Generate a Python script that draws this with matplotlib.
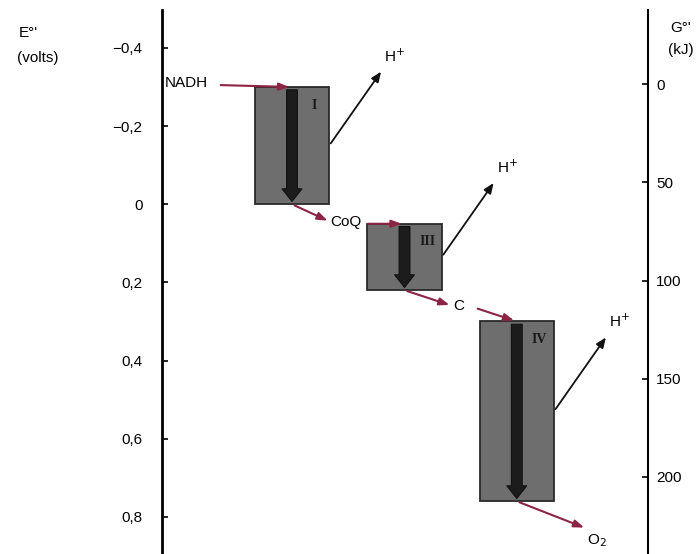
import matplotlib.pyplot as plt

plt.rcParams['font.family'] = ['Liberation Sans', 'DejaVu Sans']

# data
complexes = ["I", "III", "IV"]
e_top = [-0.30, 0.05, 0.30]        # E°' (V) at top of each complex box
e_bottom = [0.0, 0.22, 0.76]       # E°' (V) at bottom of each box
carriers = ["NADH", "CoQ", "C", "O$_2$"]
carrier_e = [-0.31, 0.045, 0.26, 0.83]

e_ticks = [-0.4, -0.2, 0.0, 0.2, 0.4, 0.6, 0.8]
e_ticklabels = ["\u22120,4", "\u22120,2", "0", "0,2", "0,4", "0,6", "0,8"]
g_ticks = [0, 50, 100, 150, 200]
g_ticklabels = ["0", "50", "100", "150", "200"]

# layout (x in axes fraction)
box_x = [0.2675, 0.499, 0.730]
box_w = 0.153
carrier_x = [0.006, 0.379, 0.611, 0.895]

box_col = "#6e6e6e"
red = "#8c2444"

fig = plt.figure(figsize=(7, 5.54), dpi=100)
ax = fig.add_axes([162 / 700, 0, 486 / 700, 544 / 554])
ax.set_xlim(0, 1)
ax.set_ylim(0.895, -0.497)
for s in ["top", "bottom", "right"]:
    ax.spines[s].set_visible(False)
ax.spines["left"].set_linewidth(2)
ax.set_xticks([])
ax.set_yticks(e_ticks)
ax.set_yticklabels(e_ticklabels, fontsize=11)
ax.tick_params(axis="y", direction="in", length=4, width=1.2, pad=14)

ax2 = ax.twinx()
ax2.set_ylim(239.2, -37.7)
for s in ["top", "bottom", "left"]:
    ax2.spines[s].set_visible(False)
ax2.spines["right"].set_linewidth(1.5)
ax2.set_yticks(g_ticks)
ax2.set_yticklabels(g_ticklabels, fontsize=11)
ax2.tick_params(axis="y", direction="in", length=4, width=1.2, pad=6)

# complexes
for name, xc, top, bot in zip(complexes, box_x, e_top, e_bottom):
    ax.add_patch(plt.Rectangle((xc - box_w / 2, top), box_w, bot - top,
                               facecolor=box_col, edgecolor="#2a2a2a", lw=1.3, zorder=2))
    ax.annotate("", xy=(xc, bot), xytext=(xc, top), zorder=4,
                arrowprops=dict(arrowstyle="simple,head_width=1.1,head_length=0.7,tail_width=0.6",
                                mutation_scale=13, facecolor="#1c1c1c", edgecolor="#111111", lw=0.8))
    ax.text(xc + box_w / 2 - 0.03, top + 0.03, name, fontsize=10, family="Liberation Serif",
            fontweight="bold", color="#1a1a1a", ha="center", va="top", zorder=5)
    # proton pumping arrow
    ym = (top + bot) / 2
    x0 = xc + box_w / 2
    ax.annotate("", xy=(x0 + 0.11, ym - 0.195), xytext=(x0, ym), zorder=3,
                arrowprops=dict(arrowstyle="-|>,head_width=0.25,head_length=0.6",
                                color="#111111", lw=1.3))
    ax.text(x0 + 0.113, ym - 0.207, "H$^{+}$", fontsize=11, ha="left", va="bottom")

# carriers
ax.text(carrier_x[0], carrier_e[0], carriers[0], fontsize=11, ha="left", va="center")
for i in range(1, 4):
    ax.text(carrier_x[i], carrier_e[i] + (0.03 if i == 3 else 0), carriers[i],
            fontsize=11, ha="center", va="center")

arrow_kw = dict(arrowstyle="-|>,head_width=0.22,head_length=0.6", color=red, lw=1.5)
# carrier -> complex top
starts_x = [0.115, 0.418, 0.644]
for i in range(3):
    ax.annotate("", xy=(box_x[i], e_top[i]), xytext=(starts_x[i], carrier_e[i] + 0.005),
                arrowprops=arrow_kw, zorder=3)
# complex bottom -> next carrier
ends_x = [0.346, 0.597, 0.874]
for i in range(3):
    ax.annotate("", xy=(ends_x[i], carrier_e[i + 1]), xytext=(box_x[i], e_bottom[i]),
                arrowprops=arrow_kw, zorder=3)

fig.text(28 / 700, 1 - 33 / 554, "E\u00b0'", fontsize=11, ha="center", va="center")
fig.text(38 / 700, 1 - 58 / 554, "(volts)", fontsize=11, ha="center", va="center")
fig.text(670 / 700, 1 - 28 / 554, "G\u00b0'", fontsize=11, ha="left", va="center")
fig.text(668 / 700, 1 - 50 / 554, "(kJ)", fontsize=11, ha="left", va="center")

fig.savefig("out.png", dpi=100)
